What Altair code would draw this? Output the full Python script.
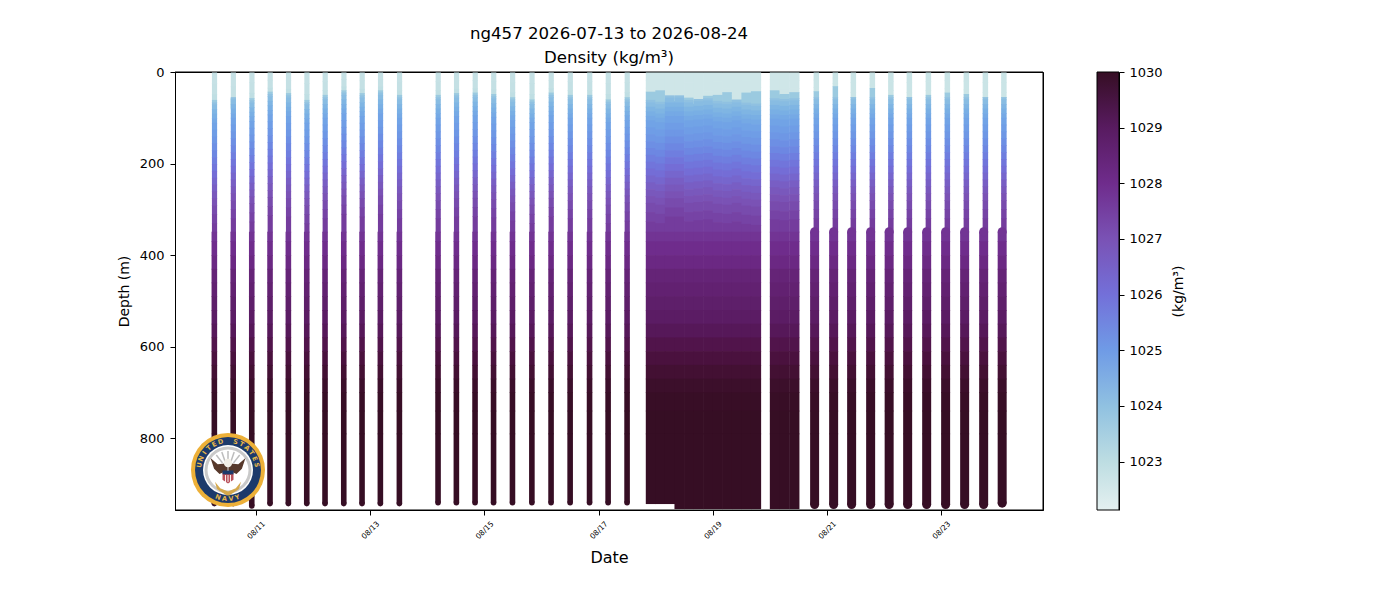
import math
import altair as alt

# ---- values ----
depth_edges = [0, 20, 40, 50, 55, 60, 70, 80, 90, 100, 115, 130, 145, 160, 175, 190, 205, 220, 235, 250,
               265, 280, 300, 320, 349, 370, 400, 430, 460, 490, 520, 550, 580, 610, 640, 670, 700, 740, 790]
band_density = [1022.8, 1022.85, 1022.95, 1023.7, 1024.0, 1024.15, 1024.35, 1024.5, 1024.65, 1024.8,
                1024.95, 1025.1, 1025.3, 1025.5, 1025.7, 1025.9, 1026.1, 1026.35, 1026.6, 1026.8,
                1027.0, 1027.2, 1027.4, 1027.6, 1027.8, 1028.0, 1028.2, 1028.45, 1028.6, 1028.75,
                1028.9, 1029.1, 1029.3, 1029.5, 1029.7, 1029.85, 1029.95, 1030.0, 1030.0]

early_days = [10.27, 10.60, 10.925, 11.245, 11.566, 11.888, 12.208, 12.536, 12.856, 13.177, 13.51,
              14.187, 14.508, 14.835, 15.159, 15.49, 15.83, 16.166, 16.50, 16.84, 17.165, 17.497]
early_mixed = [61, 79, 57, 43, 46, 61, 50, 40, 46, 40, 50, 50, 46, 45, 48, 55, 60, 45, 50, 50, 60, 55]
early_bottom = [943, 943, 948, 943, 943, 943, 943, 943, 943, 943, 943,
                941, 941, 941, 941, 941, 941, 941, 941, 941, 941, 941]

block_days = [17.914, 18.081, 18.249, 18.416, 18.584, 18.751, 18.918, 19.086, 19.253, 19.421, 19.588, 19.755,
              20.086, 20.256, 20.426]
block_mixed = [43, 40, 58, 62, 56, 68, 52, 50, 44, 60, 45, 42, 40, 48, 44]
block_shift = [6, 10, -4, -4, 6, 4, 2, 8, 10, 6, 12, 14, 2, 4, 2]
block_bottom = [944, 944, 944, 955, 955, 955, 955, 955, 955, 955, 955, 955, 955, 955, 955]

late_days = [20.781, 21.114, 21.429, 21.762, 22.086, 22.410, 22.743, 23.075, 23.408, 23.741, 24.065]
late_mixed = [42, 31, 55, 35, 50, 55, 50, 45, 48, 55, 55]
late_bottom = [945, 945, 945, 945, 945, 945, 945, 945, 945, 945, 942]

x_ticks = [11, 13, 15, 17, 19, 21, 23]
y_ticks = [0, 200, 400, 600, 800]
bar_ticks = [1023, 1024, 1025, 1026, 1027, 1028, 1029, 1030]
bar_limits = [1022.13, 1030]
cmap_values = [1022.13, 1023, 1024, 1025, 1026, 1027, 1028, 1029, 1030]
cmap_colors = ["#e4f0f0", "#bddde2", "#90c1e1", "#6f9be6", "#7370d9", "#7a52b5", "#6f2c8c", "#581b60", "#360e24"]

FONT = "DejaVu Sans"
X_DOMAIN = [9.581, 24.78]
Y_DOMAIN = [0, 957]


def profile_rows(day, mixed, shift, bottom, up_w, low_w, up_off, top_rho=None):
    rows = []
    for i, top in enumerate(depth_edges):
        nxt = depth_edges[i + 1] if i + 1 < len(depth_edges) else bottom
        if top < 349:
            t, b = top, nxt
            if 0 < top <= 50:
                t = top * mixed / 50
            elif top > 50:
                t = top + shift
            if nxt <= 50:
                b = nxt * mixed / 50
            elif nxt < 349:
                b = nxt + shift
            d, w = day + up_off, up_w
        else:
            t, b = top, nxt
            d, w = day, low_w
        rho = band_density[i]
        if top_rho is not None and top < 50:
            rho = top_rho
        rows.append({"day": d, "top": t, "bot": b + 1.5 if i + 1 < len(depth_edges) else b, "rho": rho, "w": w})
    return rows


strip_rows, cap_rows = [], []
for d, m, b in zip(early_days, early_mixed, early_bottom):
    strip_rows += profile_rows(d, m, m - 50 if abs(m - 50) < 12 else 0, b, 5.2, 5.6, 0.003)
    cap_rows.append({"day": d, "depth": b, "rho": 1030.0, "s": 31})
for d, m, s, b in zip(block_days, block_mixed, block_shift, block_bottom):
    strip_rows += profile_rows(d, m, s, b, 10.2, 10.2, 0, 1022.6)
for d, m, b in zip(late_days, late_mixed, late_bottom):
    strip_rows += profile_rows(d, m, 0, b, 5.5, 9, 0.03, 1022.7)
    cap_rows.append({"day": d, "depth": b, "rho": 1030.0, "s": 81})
    cap_rows.append({"day": d, "depth": 349, "rho": 1027.8, "s": 81})

x_scale = alt.Scale(domain=X_DOMAIN, nice=False, zero=False)
y_scale = alt.Scale(domain=Y_DOMAIN, nice=False, zero=False, reverse=True)
color_scale = alt.Scale(domain=cmap_values, range=cmap_colors)

x_enc = alt.X("day:Q", scale=x_scale,
              axis=alt.Axis(values=x_ticks, labelExpr="'08/' + datum.value", title="Date",
                            titleFont=FONT, titleFontSize=16, titleFontWeight="normal", titleColor="black",
                            titlePadding=9, labelFont=FONT, labelFontSize=7.5, labelColor="black",
                            labelAngle=315, labelAlign="center", labelBaseline="middle", labelPadding=15,
                            tickColor="black", tickSize=5, domainColor="black", grid=False))

strips = alt.Chart(alt.Data(values=strip_rows)).mark_rule(clip=True).encode(
    x=x_enc,
    y=alt.Y("top:Q", scale=y_scale,
            axis=alt.Axis(values=y_ticks, title="Depth (m)", titleFont=FONT, titleFontSize=14,
                          titleFontWeight="normal", titleColor="black", titlePadding=8, labelPadding=6,
                          labelFont=FONT, labelFontSize=13, labelColor="black", tickColor="black",
                          tickSize=5, domainColor="black", grid=False)),
    y2="bot:Q",
    size=alt.Size("w:Q", scale=None, legend=None),
    color=alt.Color("rho:Q", scale=color_scale, legend=None),
)
caps = alt.Chart(alt.Data(values=cap_rows)).mark_circle(opacity=1, clip=True).encode(
    x=x_enc,
    y=alt.Y("depth:Q", scale=y_scale, axis=None),
    size=alt.Size("s:Q", scale=None, legend=None),
    color=alt.Color("rho:Q", scale=color_scale, legend=None),
)
bar_axis = alt.Chart(alt.Data(values=[{"v": v} for v in bar_ticks])).mark_point(opacity=0).encode(
    x=alt.value(0),
    y=alt.Y("v:Q", scale=alt.Scale(domain=bar_limits, nice=False, zero=False),
            axis=alt.Axis(orient="right", offset=76, values=bar_ticks, format="d", title="(kg/m³)",
                          titleAngle=270, titleFont=FONT, titleFontSize=14, titleFontWeight="normal",
                          titleColor="black", titlePadding=16, titleBaseline="middle", labelFont=FONT,
                          labelFontSize=13, labelColor="black", tickColor="black", tickSize=5,
                          domainColor="black", grid=False, labelPadding=5)),
)

one = alt.Data(values=[{"k": 0}])

span = bar_limits[1] - bar_limits[0]
bar_gradient = alt.LinearGradient(
    gradient="linear", x1=0, x2=0, y1=1, y2=0,
    stops=[alt.GradientStop(offset=(v - bar_limits[0]) / span, color=c) for v, c in zip(cmap_values, cmap_colors)],
)
colorbar = alt.Chart(one).mark_rect(color=bar_gradient, stroke="black", strokeWidth=1).encode(
    x=alt.value(922), x2=alt.value(944), y=alt.value(0), y2=alt.value(438))


def frame(x, x2, y, y2):
    return alt.Chart(one).mark_rule(color="black", strokeWidth=1).encode(
        x=alt.value(x), x2=alt.value(x2), y=alt.value(y), y2=alt.value(y2))


# ---- US Navy seal, in the lower left corner ----
CX, CY = 53, 398


def disc(r, col, dx=0, dy=0):
    return alt.Chart(one).mark_circle(color=col, opacity=1).encode(
        x=alt.value(CX + dx), y=alt.value(CY + dy), size=alt.value(4 * r * r))


def shape(path, col, half, dx=0, dy=0):
    return alt.Chart(one).mark_point(shape=path, filled=True, color=col, opacity=1, strokeWidth=0).encode(
        x=alt.value(CX + dx), y=alt.value(CY + dy), size=alt.value((2 * half) ** 2))


def letter(ch, deg, bottom=False):
    a = math.radians(deg)
    r = 29.0
    px, py = CX + r * math.sin(a), CY - r * math.cos(a)
    rot = (deg + 180) % 360 if bottom else deg % 360
    return alt.Chart(one).mark_text(text=ch, font=FONT, fontSize=6.5, fontWeight="bold", color="#e8b84a",
                                    angle=rot, align="center", baseline="middle").encode(
        x=alt.value(px), y=alt.value(py))


seal = [disc(37, "#edb038"), disc(33, "#1c3a6b"), disc(25, "#ffffff"), disc(23.5, "#c9c9c9"), disc(20.5, "#ffffff")]
for i, ang in enumerate([-38, -19, 0, 19, 38]):
    a = math.radians(ang)
    seal.append(alt.Chart(one).mark_rule(color="#bdbdbd", strokeWidth=1.5).encode(
        x=alt.value(CX + 9 * math.sin(a)), x2=alt.value(CX + 19 * math.sin(a)),
        y=alt.value(CY - 9 * math.cos(a)), y2=alt.value(CY - 19 * math.cos(a))))
seal.append(shape("M-1,-0.9 L-0.2,-0.2 L0.9,-0.3 L0.9,0.5 L0,0.9 L-0.6,0.3 Z", "#57392b", 9, -8.5, -4))
seal.append(shape("M1,-0.9 L0.2,-0.2 L-0.9,-0.3 L-0.9,0.5 L0,0.9 L0.6,0.3 Z", "#57392b", 9, 8.5, -4))
seal.append(disc(4.2, "#f2efe6", 0, -7))
seal.append(shape("M-1,-1 L1,-1 L1,0.3 L0,1 L-1,0.3 Z", "#b9505a", 5.5, 0, 8))
seal.append(shape("M-1,-1 L1,-1 L1,-0.3 L-1,-0.3 Z", "#1c3a6b", 5.5, 0, 6))
for dx in (-2.5, 0, 2.5):
    seal.append(alt.Chart(one).mark_rule(color="#ffffff", strokeWidth=0.9).encode(
        x=alt.value(CX + dx), x2=alt.value(CX + dx), y=alt.value(CY + 5), y2=alt.value(CY + 12)))
seal.append(shape("M-1,-0.25 L-0.6,0.25 L0,0.5 L0.6,0.25 L1,-0.25 L0.85,0.3 L0.1,0.8 L-0.1,0.8 L-0.85,0.3 Z",
                  "#d4a84c", 13, 0, 15))
for i, ch in enumerate("UNITED"):
    seal.append(letter(ch, -80 + i * 13))
for i, ch in enumerate("STATES"):
    seal.append(letter(ch, 15 + i * 13))
for i, ch in enumerate("NAVY"):
    seal.append(letter(ch, 200 - i * 13, bottom=True))

chart = alt.layer(
    strips, caps, bar_axis, colorbar,
    frame(0, 868, 0, 0), frame(868, 868, 0, 438), frame(0, 868, 438, 438),
    *seal,
).resolve_scale(y="independent").properties(
    width=868, height=438,
    title=alt.TitleParams(text=["ng457 2026-07-13 to 2026-08-24", "Density (kg/m³)"], font=FONT, fontSize=16.6,
                          fontWeight="normal", color="black", anchor="middle", lineHeight=24, offset=-1),
    autosize=alt.AutoSizeParams(type="none"),
    padding={"left": 167, "top": 64, "right": 340, "bottom": 82},
).configure_view(stroke="black", strokeWidth=1)

chart.save("out.html", embed_options={"renderer": "svg", "actions": False})
